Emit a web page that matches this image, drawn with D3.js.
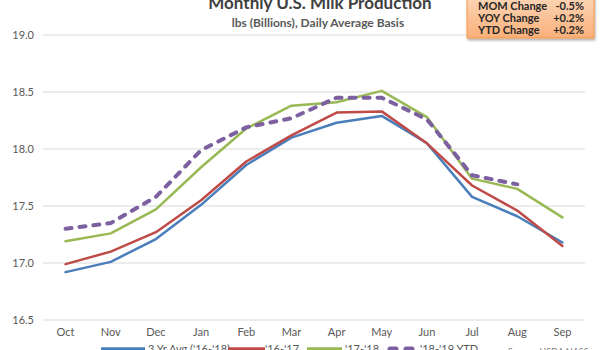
<!DOCTYPE html>
<html>
<head>
<meta charset="utf-8">
<script src="https://cdn.jsdelivr.net/npm/d3@7"></script>
<style>
  html, body { margin: 0; padding: 0; background: #fff; overflow: hidden; }
  svg { display: block; font-family: Lato, "Open Sans", sans-serif; }
</style>
</head>
<body>
<svg id="chart" width="600" height="350"></svg>
<script>
const months = ["Oct","Nov","Dec","Jan","Feb","Mar","Apr","May","Jun","Jul","Aug","Sep"];
const avg3yr  = [16.92,17.01,17.21,17.51,17.86,18.10,18.23,18.29,18.05,17.58,17.41,17.18];
const y1617   = [16.99,17.10,17.27,17.55,17.89,18.12,18.32,18.33,18.05,17.68,17.46,17.15];
const y1718   = [17.19,17.26,17.47,17.84,18.18,18.38,18.41,18.51,18.28,17.74,17.65,17.40];
const y1819   = [17.30,17.35,17.58,17.99,18.19,18.27,18.45,18.45,18.26,17.77,17.69];
const yTicks  = [16.5,17.0,17.5,18.0,18.5,19.0];
const seriesNames = ["3 Yr Avg ('16-'18)","'16-'17","'17-'18","'18-'19 YTD"];
const statLabels = ["MOM Change","YOY Change","YTD Change"];
const statValues = ["-0.5%","+0.2%","+0.2%"];

const svg = d3.select("#chart");
const x = d3.scaleBand().domain(months).range([43, 585]);
const y = d3.scaleLinear().domain([16.5, 19.0]).range([320, 35]);

// gridlines
svg.append("g").selectAll("line").data(yTicks).join("line")
  .attr("x1", 43).attr("x2", 585)
  .attr("y1", d => y(d)).attr("y2", d => y(d))
  .attr("stroke", "#d9d9d9").attr("stroke-width", 1);

// y axis labels
const yAxis = d3.axisLeft(y).tickValues(yTicks).tickFormat(d3.format(".1f")).tickSize(0).tickPadding(0);
const gy = svg.append("g").attr("transform", "translate(34,0)").call(yAxis);
gy.select(".domain").remove();
gy.selectAll("text").attr("fill", "#595959").style("font-size", "11px").style("font-family", "Lato, 'Open Sans', sans-serif");

// x axis labels
const xAxis = d3.axisBottom(x).tickSize(0).tickPadding(0);
const gx = svg.append("g").attr("transform", "translate(0,328)").call(xAxis);
gx.select(".domain").remove();
gx.selectAll("text").attr("fill", "#595959").style("font-size", "11px").style("font-family", "Lato, 'Open Sans', sans-serif");

const line = d3.line().x((d, i) => x(months[i]) + x.bandwidth() / 2).y(d => y(d));

const series = [
  { vals: avg3yr, color: "#4a7ebb", w: 2.5, dash: null },
  { vals: y1617,  color: "#be4b48", w: 2.5, dash: null },
  { vals: y1718,  color: "#98b954", w: 2.5, dash: null },
  { vals: y1819,  color: "#7d60a0", w: 4,   dash: "6,8" }
];
series.forEach(s => {
  svg.append("path").datum(s.vals)
    .attr("d", line)
    .attr("fill", "none")
    .attr("stroke", s.color)
    .attr("stroke-width", s.w)
    .attr("stroke-linejoin", "round")
    .attr("stroke-linecap", "round")
    .attr("stroke-dasharray", s.dash);
});

// title
svg.append("text").attr("x", 320).attr("y", 9).attr("text-anchor", "middle")
  .attr("fill", "#404040").style("font-size", "17px").style("font-weight", "bold")
  .text("Monthly U.S. Milk Production");
svg.append("text").attr("x", 318).attr("y", 27).attr("text-anchor", "middle")
  .attr("fill", "#595959").style("font-size", "12px").style("font-weight", "bold")
  .text("lbs (Billions), Daily Average Basis");

// stats box
const defs = svg.append("defs");
const grad = defs.append("linearGradient").attr("id", "boxgrad").attr("x1", 0).attr("y1", 0).attr("x2", 0).attr("y2", 1);
grad.append("stop").attr("offset", "0%").attr("stop-color", "#fcd5b5");
grad.append("stop").attr("offset", "100%").attr("stop-color", "#f9b07a");
const sh = defs.append("filter").attr("id", "shadow").attr("x", "-10%").attr("y", "-10%").attr("width", "130%").attr("height", "140%");
sh.append("feDropShadow").attr("dx", 1).attr("dy", 2).attr("stdDeviation", 1.2).attr("flood-color", "#000").attr("flood-opacity", 0.3);
svg.append("rect").attr("x", 467).attr("y", -3).attr("width", 127).attr("height", 41)
  .attr("fill", "url(#boxgrad)").attr("stroke", "#f79646").attr("stroke-width", 1)
  .attr("filter", "url(#shadow)");
statLabels.forEach((lab, i) => {
  svg.append("text").attr("x", 478).attr("y", 10 + i * 12)
    .attr("fill", "#262626").style("font-size", "11px").style("font-weight", "bold").text(lab);
  svg.append("text").attr("x", 584).attr("y", 10 + i * 12).attr("text-anchor", "end")
    .attr("fill", "#262626").style("font-size", "11px").style("font-weight", "bold").text(statValues[i]);
});

// legend
const legendItems = [
  { x: 101, len: 44, tx: 148 },
  { x: 228, len: 37, tx: 265 },
  { x: 307, len: 35, tx: 345 },
  { x: 390, len: 22, tx: 420 }
];
legendItems.forEach((li, i) => {
  const s = series[i];
  svg.append("line").attr("x1", li.x).attr("x2", li.x + li.len).attr("y1", 349).attr("y2", 349)
    .attr("stroke", s.color).attr("stroke-width", s.dash ? 5 : 3.5)
    .attr("stroke-linecap", s.dash ? "round" : "butt")
    .attr("stroke-dasharray", s.dash ? "6,10" : null);
  svg.append("text").attr("x", li.tx).attr("y", 353).attr("fill", "#595959")
    .style("font-size", "11px").text(seriesNames[i]);
});
svg.append("text").attr("x", 508).attr("y", 355).attr("fill", "#7f7f7f")
  .style("font-size", "9px").text("Source: USDA NASS");
</script>
</body>
</html>
